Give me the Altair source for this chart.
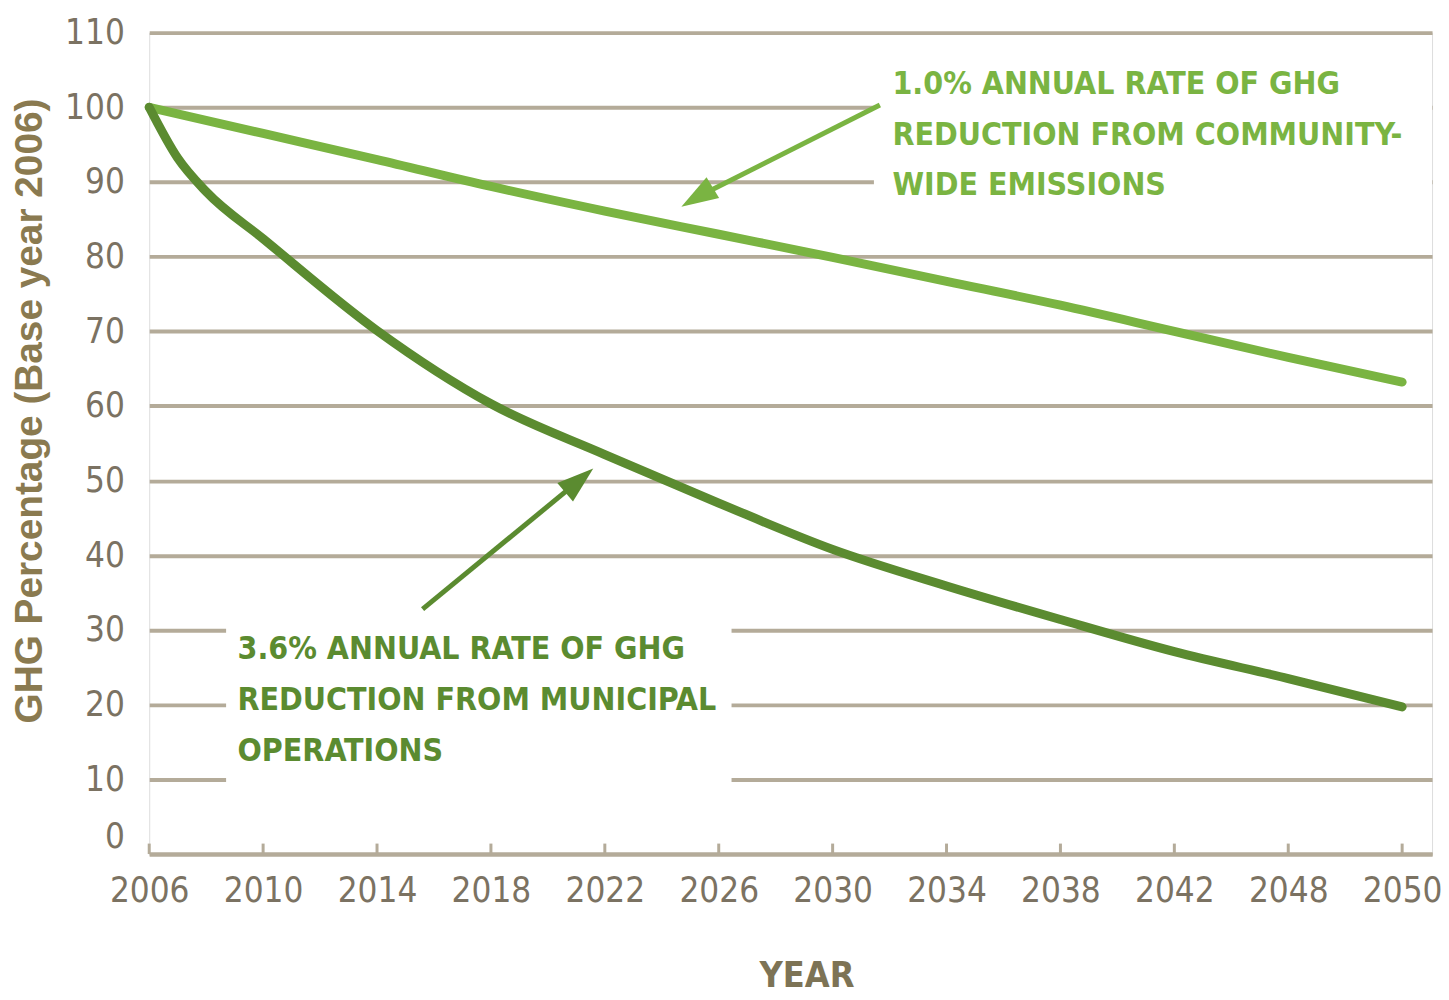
import altair as alt
import pandas as pd

# ---- data ----
tick_years = [2006, 2010, 2014, 2018, 2022, 2026, 2030, 2034, 2038, 2042, 2046, 2050]
tick_labels = ["2006", "2010", "2014", "2018", "2022", "2026", "2030", "2034", "2038", "2042", "2048", "2050"]

community_years = [2006, 2010, 2014, 2018, 2022, 2026, 2030, 2034, 2038, 2042, 2046, 2050]
community_vals = [100, 96.5, 93.0, 89.4, 86.1, 83.0, 79.9, 76.7, 73.5, 70.0, 66.5, 63.2]

municipal_years = [2006, 2007, 2008, 2010, 2014, 2018, 2022, 2026, 2030, 2034, 2038, 2042, 2046, 2050]
municipal_vals = [100, 93.2, 88.7, 82.4, 70.1, 60.3, 53.5, 47.0, 40.8, 35.9, 31.4, 27.1, 23.5, 19.7]

y_ticks = [0, 10, 20, 30, 40, 50, 60, 70, 80, 90, 100, 110]

LIGHT = "#7ab442"
DARK = "#5b8b30"
GRID = "#b4ab99"
LABEL = "#7b7262"
TITLE = "#8a7a50"
COND = "DejaVu Sans Condensed, DejaVu Sans, sans-serif"
WIDE = "Liberation Sans, Arial, sans-serif"

lines = pd.DataFrame(
    [{"year": y, "value": v, "series": "community"} for y, v in zip(community_years, community_vals)]
    + [{"year": y, "value": v, "series": "municipal"} for y, v in zip(municipal_years, municipal_vals)]
)

# annotation geometry (data coordinates)
knockouts = pd.DataFrame([
    {"x": 2008.7, "x2": 2026.45, "y": 6.5, "y2": 33.5},
    {"x": 2031.45, "x2": 2051.05, "y": 86.0, "y2": 104.0},
])
arrows = pd.DataFrame([
    {"x": 2031.66, "y": 100.3, "x2": 2025.24, "y2": 87.96, "angle": 238.8, "series": "community"},
    {"x": 2015.6, "y": 32.8, "x2": 2021.10, "y2": 50.03, "angle": 49.8, "series": "municipal"},
])
notes = pd.DataFrame([
    {"x": 2032.1, "y": 105.1, "series": "community",
     "text": ["1.0% ANNUAL RATE OF GHG", "REDUCTION FROM COMMUNITY-", "WIDE EMISSIONS"]},
    {"x": 2009.1, "y": 29.4, "series": "municipal",
     "text": ["3.6% ANNUAL RATE OF GHG", "REDUCTION FROM MUNICIPAL", "OPERATIONS"]},
])
ticks_df = pd.DataFrame({"year": tick_years})

label_expr = ("[" + ",".join(f"'{t}'" for t in tick_labels) + "][indexof(["
              + ",".join(str(t) for t in tick_years) + "], datum.value)]")

x_scale = alt.Scale(domain=[2006, 2051.05], nice=False, zero=False)
y_scale = alt.Scale(domain=[0, 110], nice=False)
color_scale = alt.Scale(domain=["community", "municipal"], range=[LIGHT, DARK])

base_lines = alt.Chart(lines).mark_line(strokeWidth=9, strokeCap="round", interpolate="monotone").encode(
    x=alt.X("year:Q", scale=x_scale,
            axis=alt.Axis(values=tick_years, labelExpr=label_expr, grid=False, ticks=False,
                          domainColor=GRID, domainWidth=4,
                          labelFont=COND, labelFontSize=35, labelColor=LABEL, labelPadding=20,
                          labelFlush=False,
                          title="YEAR", titleFont=COND, titleFontSize=36, titleFontWeight="bold",
                          titleColor="#7d7355", titlePadding=50, titleX=661)),
    y=alt.Y("value:Q", scale=y_scale,
            axis=alt.Axis(values=y_ticks, grid=True, gridColor=GRID, gridWidth=4, domain=False, ticks=False,
                          labelFont=COND, labelFontSize=35, labelColor=LABEL, labelPadding=25,
                          labelBaseline={"condition": {"test": "datum.value === 0", "value": "bottom"},
                                         "value": "middle"},
                          title="GHG Percentage (Base year 2006)", titleFont=WIDE,
                          titleFontSize=39, titleFontWeight="bold", titleColor=TITLE,
                          titleX=-120, titleY=380, titleAlign="center", titleBaseline="middle")),
    color=alt.Color("series:N", scale=color_scale, legend=None),
    detail="series:N",
)

knock = alt.Chart(knockouts).mark_rect(color="white", opacity=1).encode(
    x=alt.X("x:Q", scale=x_scale), x2="x2:Q",
    y=alt.Y("y:Q", scale=y_scale), y2="y2:Q",
)

tick_marks = alt.Chart(ticks_df).mark_rule(color=GRID, strokeWidth=3).encode(
    x=alt.X("year:Q", scale=x_scale),
    y=alt.datum(0),
    y2=alt.datum(1.4),
)

arrow_shaft = alt.Chart(arrows).mark_rule(strokeWidth=5).encode(
    x=alt.X("x:Q", scale=x_scale), x2="x2:Q",
    y=alt.Y("y:Q", scale=y_scale), y2="y2:Q",
    color=alt.Color("series:N", scale=color_scale, legend=None),
)
arrow_head = alt.Chart(arrows).mark_point(shape="M0,-1L0.66,1L-0.66,1Z", filled=True, size=1369,
                                          opacity=1).encode(
    x=alt.X("x2:Q", scale=x_scale),
    y=alt.Y("y2:Q", scale=y_scale),
    angle=alt.Angle("angle:Q", scale=None),
    color=alt.Color("series:N", scale=color_scale, legend=None),
)

note_text = alt.Chart(notes).mark_text(align="left", baseline="top", font=COND, fontSize=32,
                                       fontWeight="bold", lineHeight=51).encode(
    x=alt.X("x:Q", scale=x_scale),
    y=alt.Y("y:Q", scale=y_scale),
    text="text",
    color=alt.Color("series:N", scale=color_scale, legend=None),
)

chart = alt.layer(knock, tick_marks, base_lines, arrow_shaft, arrow_head, note_text).properties(
    width=1290, height=826,
    autosize=alt.AutoSizeParams(type="none"),
    padding={"left": 142, "top": 22, "right": 9, "bottom": 142},
).configure_view(stroke=None).configure(background="white")

chart.save("out.html", embed_options={"renderer": "svg", "actions": False})
